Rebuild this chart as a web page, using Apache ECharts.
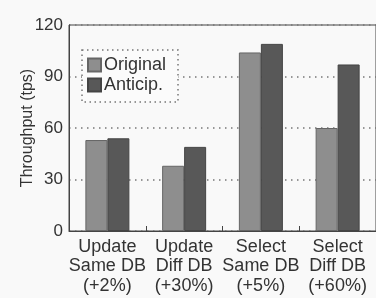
<!DOCTYPE html>
<html>
<head>
<meta charset="utf-8">
<script src="https://cdn.jsdelivr.net/npm/echarts@6/dist/echarts.min.js"></script>
<style>
html,body{margin:0;padding:0;background:#f9f9f9;}
#chart{width:376px;height:298px;}
</style>
</head>
<body>
<div id="chart"></div>
<script>
var categories = ['Update\nSame DB\n(+2%)', 'Update\nDiff DB\n(+30%)', 'Select\nSame DB\n(+5%)', 'Select\nDiff DB\n(+60%)'];
var originalList = [53, 38, 104, 60];   // Original
var anticipList = [54, 49, 109, 97];    // Anticip.
var yTicks = [0, 30, 60, 90, 120];

var font = 'Liberation Sans, Arial, Helvetica, sans-serif';
var myChart = echarts.init(document.getElementById('chart'));
var option = {
    backgroundColor: '#f9f9f9',
    animation: false,
    textStyle: {fontFamily: font},
    grid: {
        left: 69, top: 25, right: -10, bottom: 67,
        show: true, borderColor: '#444', borderWidth: 1
    },
    legend: {
        orient: 'vertical',
        left: 87, top: 56, padding: 0,
        itemWidth: 13, itemHeight: 13, itemGap: 2,
        icon: 'rect',
        textStyle: {fontSize: 18, color: '#333', fontFamily: font, padding: [0, 0, 0, -2]},
        data: ['Original', 'Anticip.'],
        z: 6
    },
    graphic: [{
        type: 'rect',
        z: 5,
        shape: {x: 82, y: 50, width: 96, height: 52},
        style: {fill: '#fbfbfb', stroke: '#777', lineWidth: 1.5, lineDash: [1.5, 3.5]}
    }],
    xAxis: {
        type: 'category',
        data: categories,
        axisLine: {lineStyle: {color: '#444', width: 1}},
        axisTick: {show: true, inside: true, length: 5, lineStyle: {color: '#444'}},
        axisLabel: {fontSize: 18, lineHeight: 19.5, color: '#333', margin: 6, interval: 0}
    },
    yAxis: {
        type: 'value',
        min: yTicks[0], max: yTicks[yTicks.length - 1], interval: 30,
        name: 'Throughput (tps)',
        nameLocation: 'middle',
        nameGap: 33,
        nameMoveOverlap: false,
        nameTextStyle: {fontSize: 16, color: '#333'},
        axisLine: {show: true, lineStyle: {color: '#444'}},
        axisTick: {show: false},
        axisLabel: {fontSize: 17, color: '#333', margin: 6},
        splitLine: {show: true, lineStyle: {color: '#777', width: 1.5, type: [1.5, 4.5]}}
    },
    series: [
        {
            name: 'Original', type: 'bar', barWidth: 22, barGap: '0%',
            data: originalList,
            itemStyle: {color: '#8e8e8e', borderColor: '#666', borderWidth: 1}
        },
        {
            name: 'Anticip.', type: 'bar', barWidth: 22, barGap: '0%',
            data: anticipList,
            itemStyle: {color: '#585858', borderColor: '#444', borderWidth: 1}
        }
    ]
};
myChart.setOption(option);
</script>
</body>
</html>
